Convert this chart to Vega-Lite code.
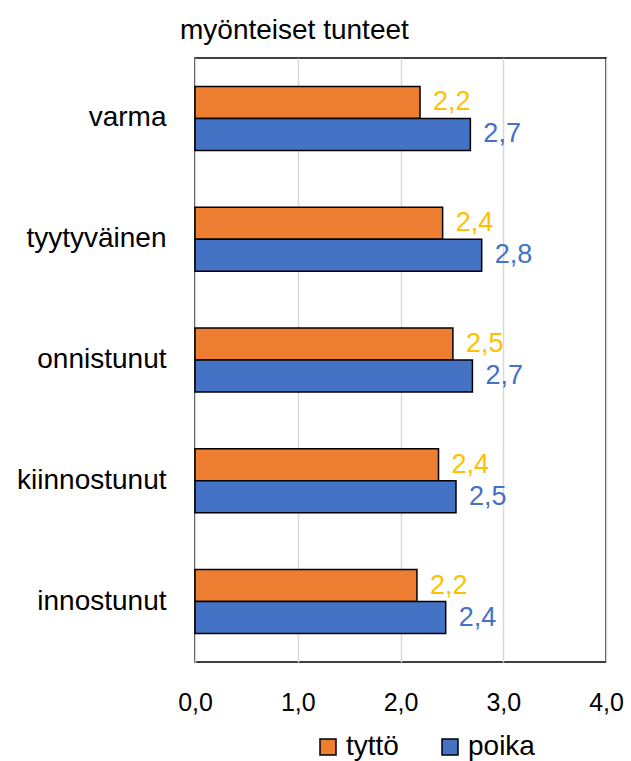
{
  "$schema": "https://vega.github.io/schema/vega-lite/v6.json",
  "autosize": {"type": "none"},
  "padding": {"left": 195, "top": 58, "right": 25, "bottom": 99},
  "width": 411,
  "height": 604,
  "background": "white",
  "config": {
    "locale": {"number": {"decimal": ",", "thousands": " ", "grouping": [3], "currency": ["", " €"]}},
    "font": "Liberation Sans",
    "view": {"stroke": "black", "strokeWidth": 1.5}
  },
  "title": {"text": "myönteiset tunteet", "fontSize": 28, "fontWeight": "normal", "font": "Liberation Sans", "anchor": "start", "frame": "group", "dx": -15, "offset": 13, "color": "black"},
  "data": {"values": [
    {"kategoria": "varma", "sukupuoli": "tyttö", "arvo": 2.19},
    {"kategoria": "varma", "sukupuoli": "poika", "arvo": 2.68},
    {"kategoria": "tyytyväinen", "sukupuoli": "tyttö", "arvo": 2.41},
    {"kategoria": "tyytyväinen", "sukupuoli": "poika", "arvo": 2.79},
    {"kategoria": "onnistunut", "sukupuoli": "tyttö", "arvo": 2.51},
    {"kategoria": "onnistunut", "sukupuoli": "poika", "arvo": 2.70},
    {"kategoria": "kiinnostunut", "sukupuoli": "tyttö", "arvo": 2.37},
    {"kategoria": "kiinnostunut", "sukupuoli": "poika", "arvo": 2.54},
    {"kategoria": "innostunut", "sukupuoli": "tyttö", "arvo": 2.16},
    {"kategoria": "innostunut", "sukupuoli": "poika", "arvo": 2.44}
  ]},
  "encoding": {
    "y": {"field": "kategoria", "type": "nominal", "sort": ["varma", "tyytyväinen", "onnistunut", "kiinnostunut", "innostunut"],
      "scale": {"paddingInner": 0.47, "paddingOuter": 0.235},
      "axis": {"title": null, "ticks": false, "domain": false, "labelFontSize": 28, "labelColor": "black", "labelPadding": 29, "labelFont": "Liberation Sans"}},
    "yOffset": {"field": "sukupuoli", "type": "nominal", "sort": ["tyttö", "poika"], "scale": {"paddingInner": 0, "paddingOuter": 0}},
    "x": {"field": "arvo", "type": "quantitative", "scale": {"domain": [0, 4], "nice": false},
      "axis": {"title": null, "values": [0, 1, 2, 3, 4], "format": ".1f", "ticks": false, "domain": false, "labelFlush": false, "labelFontSize": 25, "labelColor": "black", "labelPadding": 28, "gridColor": "#d9d9d9", "gridWidth": 1.5, "labelFont": "Liberation Sans"}}
  },
  "layer": [
    {
      "mark": {"type": "bar", "stroke": "black", "strokeWidth": 1.5},
      "encoding": {
        "color": {"field": "sukupuoli", "type": "nominal", "sort": ["tyttö", "poika"],
          "scale": {"domain": ["tyttö", "poika"], "range": ["#ED7D31", "#4472C4"]},
          "legend": {"title": null, "orient": "none", "legendX": 119, "legendY": 675, "direction": "horizontal", "symbolType": "square", "symbolSize": 256, "symbolStrokeColor": "black", "symbolStrokeWidth": 1.5, "labelFontSize": 28, "labelColor": "black", "columnPadding": 37, "labelFont": "Liberation Sans", "labelOffset": 4}}
      }
    },
    {
      "mark": {"type": "text", "align": "left", "baseline": "middle", "dx": 13, "fontSize": 27, "font": "Liberation Sans"},
      "encoding": {
        "text": {"field": "arvo", "type": "quantitative", "format": ".1f"},
        "color": {"field": "sukupuoli", "type": "nominal", "scale": {"domain": ["tyttö", "poika"], "range": ["#FFC000", "#4472C4"]}, "legend": null}
      }
    }
  ],
  "resolve": {"scale": {"color": "independent"}}
}
